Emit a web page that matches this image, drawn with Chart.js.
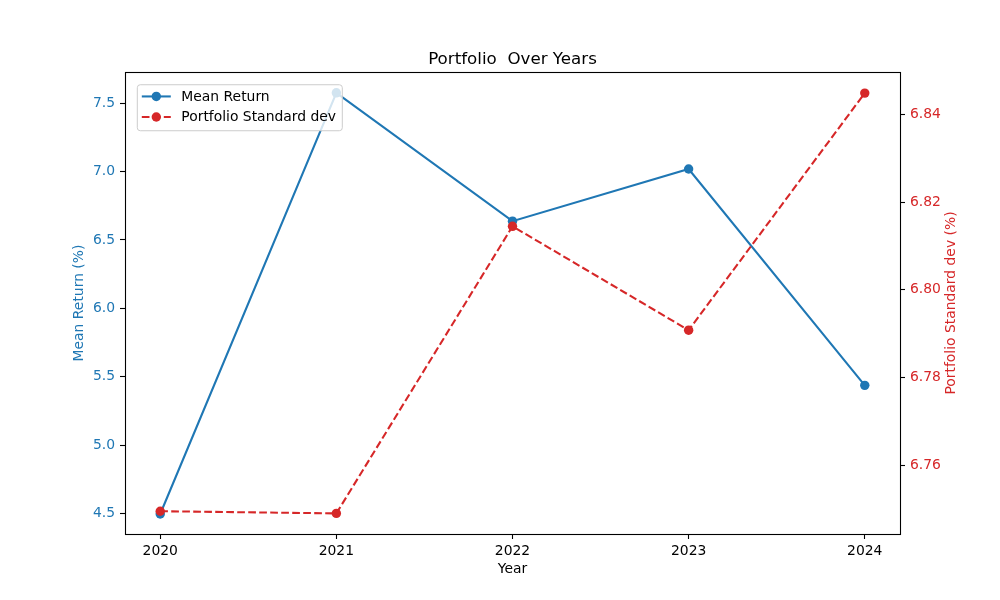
<!DOCTYPE html>
<html>
<head>
<meta charset="utf-8">
<script src="https://cdn.jsdelivr.net/npm/chart.js@4"></script>
<style>
  body { margin: 0; background: #fff; }
</style>
</head>
<body>
<canvas id="myChart" width="1000" height="600"></canvas>
<script>
// data
const years = [2020, 2021, 2022, 2023, 2024];
const meanReturn = [4.497, 7.575, 6.637, 7.018, 5.437];
const portfolioStd = [6.7495, 6.7490, 6.8145, 6.7908, 6.8449];

const yearTicks = [2020, 2021, 2022, 2023, 2024];
const meanTicks = [4.5, 5.0, 5.5, 6.0, 6.5, 7.0, 7.5];
const stdTicks = [6.76, 6.78, 6.80, 6.82, 6.84];

const BLUE = '#1f77b4';
const RED = '#d62728';
const FONT = 'DejaVu Sans';
const tickFont = { family: FONT, size: 13.9 };

// frame, right axis title and the in-plot legend
const extras = {
    id: 'extras',
    afterDatasetsDraw(chart) {
        const ctx = chart.ctx;
        const a = chart.chartArea;
        ctx.save();

        ctx.strokeStyle = '#000';
        ctx.lineWidth = 1.1;
        ctx.strokeRect(Math.round(a.left) + 0.5, Math.round(a.top) + 0.5,
            Math.round(a.right - a.left), Math.round(a.bottom - a.top));

        // right axis title reads bottom to top like matplotlib
        ctx.save();
        ctx.translate(951.7, (a.top + a.bottom) / 2);
        ctx.rotate(-Math.PI / 2);
        ctx.fillStyle = RED;
        ctx.font = '13.9px "' + FONT + '"';
        ctx.textAlign = 'center';
        ctx.textBaseline = 'middle';
        ctx.fillText('Portfolio Standard dev (%)', 0, 0);
        ctx.restore();

        // legend
        const x = a.left + 12.3, y = a.top + 12.7, w = 205, h = 46;
        ctx.beginPath();
        ctx.roundRect(x, y, w, h, 3);
        ctx.fillStyle = 'rgba(255,255,255,0.8)';
        ctx.fill();
        ctx.strokeStyle = '#cccccc';
        ctx.lineWidth = 1;
        ctx.stroke();

        chart.data.datasets.forEach((ds, i) => {
            const cy = y + 11.7 + i * 20.6;
            ctx.beginPath();
            ctx.setLineDash(ds.borderDash || []);
            ctx.strokeStyle = ds.borderColor;
            ctx.lineWidth = ds.borderWidth;
            ctx.moveTo(x + 4.5, cy);
            ctx.lineTo(x + 33.5, cy);
            ctx.stroke();
            ctx.setLineDash([]);
            ctx.beginPath();
            ctx.arc(x + 19, cy, ds.pointRadius, 0, Math.PI * 2);
            ctx.fillStyle = ds.backgroundColor;
            ctx.fill();
            ctx.fillStyle = '#000';
            ctx.font = '13.9px "' + FONT + '"';
            ctx.textAlign = 'left';
            ctx.textBaseline = 'middle';
            ctx.fillText(ds.label, x + 44, cy + 0.5);
        });
        ctx.restore();
    }
};

const ctx = document.getElementById('myChart').getContext('2d');

new Chart(ctx, {
    type: 'line',
    data: {
        datasets: [{
            label: 'Mean Return',
            data: years.map((yr, i) => ({ x: yr, y: meanReturn[i] })),
            yAxisID: 'y',
            borderColor: BLUE,
            backgroundColor: BLUE,
            borderWidth: 2.08,
            pointRadius: 4.7,
            pointBorderWidth: 0,
            pointHoverRadius: 4.7,
            fill: false,
            order: 1
        }, {
            label: 'Portfolio Standard dev',
            data: years.map((yr, i) => ({ x: yr, y: portfolioStd[i] })),
            yAxisID: 'y1',
            borderColor: RED,
            backgroundColor: RED,
            borderWidth: 2.08,
            borderDash: [7.7, 3.3],
            pointRadius: 4.7,
            pointBorderWidth: 0,
            pointHoverRadius: 4.7,
            fill: false,
            order: 0
        }]
    },
    options: {
        responsive: false,
        animation: false,
        layout: { padding: 0 },
        plugins: {
            legend: { display: false },
            tooltip: { enabled: false },
            title: {
                display: true,
                text: 'Portfolio  Over Years',
                fullSize: false,
                color: '#000',
                font: { family: FONT, size: 16.7, weight: 'normal', lineHeight: 1.2 },
                padding: { top: 50, bottom: 2 }
            }
        },
        scales: {
            x: {
                type: 'linear',
                position: 'bottom',
                min: 2019.8,
                max: 2024.2,
                afterBuildTicks: axis => { axis.ticks = yearTicks.map(v => ({ value: v })); },
                afterFit: axis => { axis.height = 66; },
                border: { display: false },
                grid: { drawOnChartArea: false, drawTicks: true, tickLength: 5, color: '#000', tickWidth: 1.1 },
                ticks: {
                    color: '#000',
                    font: tickFont,
                    padding: 4,
                    maxRotation: 0,
                    callback: v => String(v)
                },
                title: {
                    display: true,
                    text: 'Year',
                    color: '#000',
                    font: { family: FONT, size: 13.9, lineHeight: 1.2 },
                    padding: { top: 0, bottom: 22 }
                }
            },
            y: {
                type: 'linear',
                position: 'left',
                min: 4.3507,
                max: 7.7268,
                afterBuildTicks: axis => { axis.ticks = meanTicks.map(v => ({ value: v })); },
                afterFit: axis => { axis.width = 125; },
                border: { display: false },
                grid: { drawOnChartArea: false, drawTicks: true, tickLength: 5, color: '#000', tickWidth: 1.1 },
                ticks: {
                    color: BLUE,
                    font: tickFont,
                    padding: 5,
                    callback: v => v.toFixed(1)
                },
                title: {
                    display: true,
                    text: 'Mean Return (%)',
                    color: BLUE,
                    font: { family: FONT, size: 13.9, lineHeight: 1.2 },
                    padding: { top: 71, bottom: 0 }
                }
            },
            y1: {
                type: 'linear',
                position: 'right',
                min: 6.7443,
                max: 6.8497,
                afterBuildTicks: axis => { axis.ticks = stdTicks.map(v => ({ value: v })); },
                afterFit: axis => { axis.width = 100; },
                border: { display: false },
                grid: { drawOnChartArea: false, drawTicks: true, tickLength: 5, color: '#000', tickWidth: 1.1 },
                ticks: {
                    color: RED,
                    font: tickFont,
                    padding: 5,
                    callback: v => v.toFixed(2)
                }
            }
        }
    },
    plugins: [extras]
});
</script>
</body>
</html>
